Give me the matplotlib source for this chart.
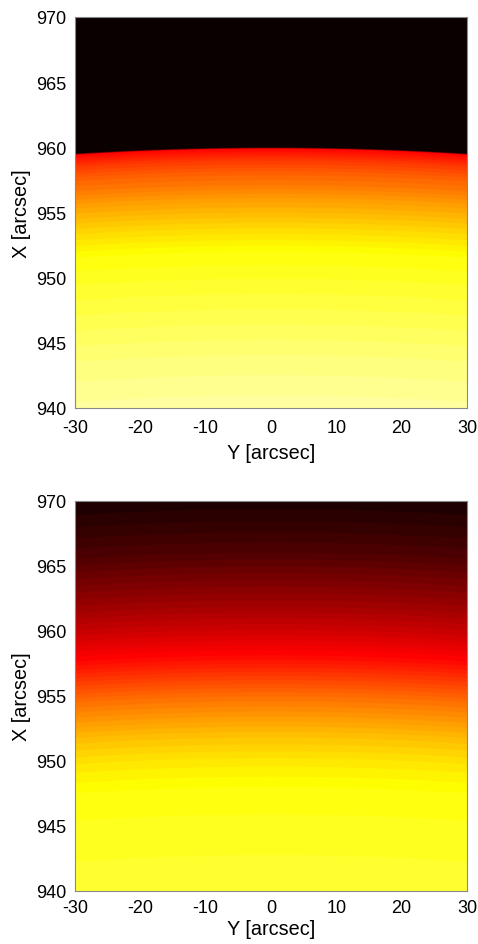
import numpy as np
import matplotlib
matplotlib.use('Agg')
import matplotlib.pyplot as plt

plt.rcParams['font.family'] = ['Liberation Sans', 'DejaVu Sans']
plt.rcParams['axes.unicode_minus'] = False

# axes ranges (arcsec)
y_range = [-30, 30]
x_range = [940, 970]
x_ticks = [940, 945, 950, 955, 960, 965, 970]
y_ticks = [-30, -20, -10, 0, 10, 20, 30]

# top panel: radial profile, colour level (0..1 of hot map) vs radius
r_top = [940, 944, 947, 950, 952, 954, 956, 957, 958, 959, 959.9, 960.0, 971]
lev_top = [0.90, 0.86, 0.82, 0.78, 0.75, 0.68, 0.60, 0.55, 0.51, 0.45, 0.37, 0.0, 0.0]

# bottom panel: smoothed profile
r_bot = [940, 942, 944, 946, 948, 949, 950, 951, 952, 953, 954, 955, 956, 957,
         958, 959, 960, 962, 964, 966, 968, 971]
lev_bot = [0.79, 0.785, 0.775, 0.765, 0.75, 0.73, 0.71, 0.68, 0.65, 0.61, 0.57,
           0.53, 0.48, 0.43, 0.38, 0.34, 0.30, 0.23, 0.17, 0.11, 0.07, 0.02]

cmap = plt.get_cmap('hot', 64)

yy = np.linspace(y_range[0], y_range[1], 800)
xx = np.linspace(x_range[0], x_range[1], 1600)
Y, X = np.meshgrid(yy, xx)
R = np.sqrt(X**2 + Y**2)

fig = plt.figure(figsize=(4.78, 9.45), dpi=100)
W, H = 478, 945
boxes = [(75, 18, 467, 409), (75, 502, 467, 892)]

for i, ((l, t, r, b), rp, lv) in enumerate(zip(boxes, [r_top, r_bot], [lev_top, lev_bot])):
    ax = fig.add_axes([l / W, 1 - b / H, (r - l) / W, (b - t) / H])
    img = np.interp(R, rp, lv)
    ax.imshow(img, cmap=cmap, vmin=0, vmax=1, origin='lower', aspect='auto',
              extent=[y_range[0], y_range[1], x_range[0], x_range[1]],
              interpolation='antialiased')
    ax.set_xlim(y_range)
    ax.set_ylim(x_range)
    ax.set_xticks(y_ticks)
    ax.set_yticks(x_ticks)
    ax.tick_params(length=0, labelsize=13, pad=6)
    ax.tick_params(axis='x', pad=8 if i == 0 else 6)
    for s in ax.spines.values():
        s.set_color('#888888')
        s.set_linewidth(0.8)
    ax.set_xlabel('Y [arcsec]', fontsize=14.3, labelpad=5 if i == 0 else 2)
    ax.set_ylabel('X [arcsec]', fontsize=14.3, labelpad=4)

fig.savefig('out.png', dpi=100)
